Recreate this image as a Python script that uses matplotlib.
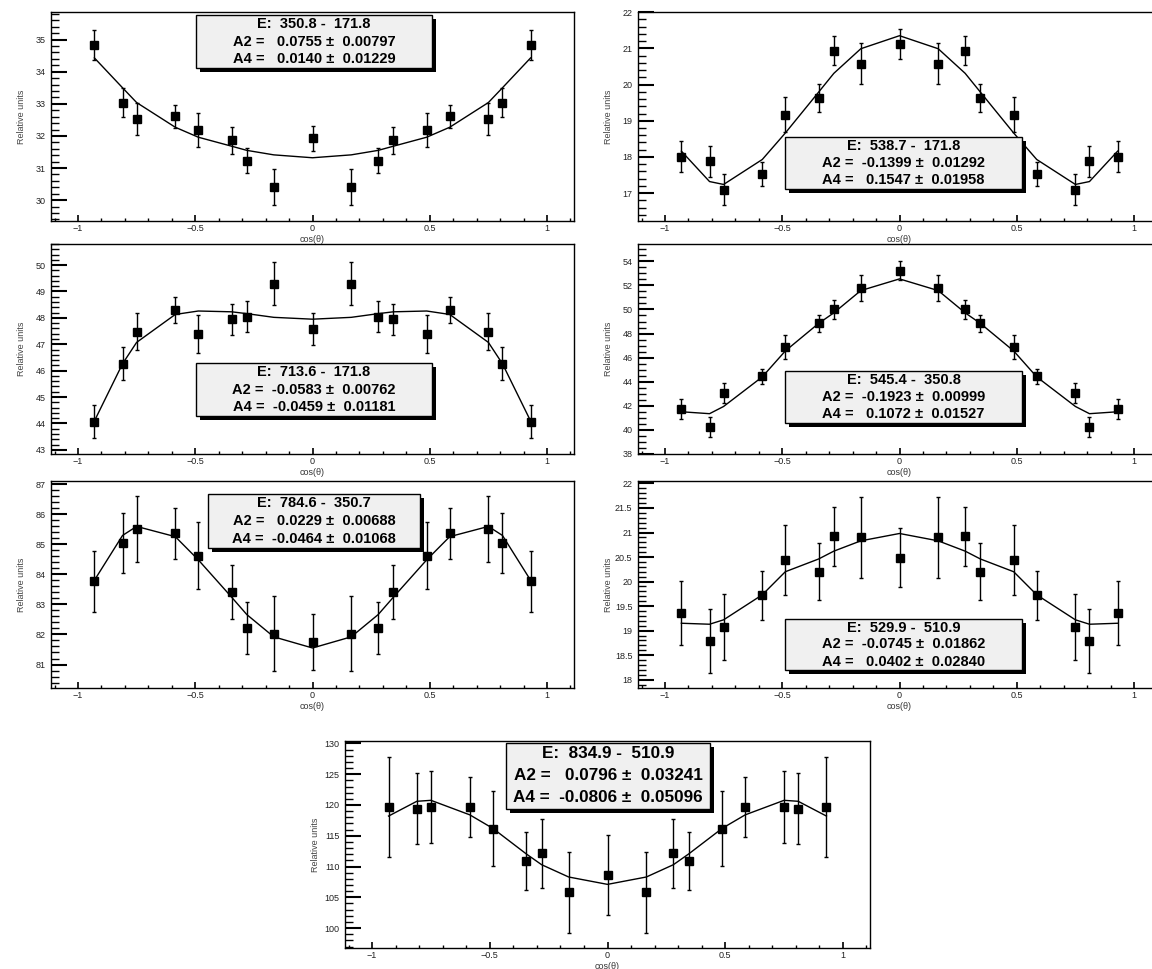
import numpy as np
import matplotlib as mpl
mpl.use('Agg')
import matplotlib.pyplot as plt
from matplotlib.patches import Rectangle
from matplotlib.ticker import MultipleLocator, AutoMinorLocator, FuncFormatter

plt.rcParams['font.family'] = ['Liberation Sans', 'DejaVu Sans']

W, H = 1152, 969

# detector angles, same for every panel
cos_theta = [-0.93, -0.81, -0.75, -0.585, -0.487, -0.345, -0.28, -0.165, 0.0,
             0.165, 0.28, 0.345, 0.487, 0.585, 0.75, 0.81, 0.93]

# panel 1: 350.8 - 171.8
p1_y = [34.82, 33.03, 32.53, 32.61, 32.19, 31.87, 31.22, 30.41, 31.92,
        30.41, 31.22, 31.87, 32.19, 32.61, 32.53, 33.03, 34.82]
p1_err = [0.47, 0.45, 0.50, 0.35, 0.53, 0.42, 0.39, 0.56, 0.40,
          0.56, 0.39, 0.42, 0.53, 0.35, 0.50, 0.45, 0.47]
p1_fit = [34.43, 33.50, 33.04, 32.27, 31.96, 31.68, 31.55, 31.41, 31.32,
          31.41, 31.55, 31.68, 31.96, 32.27, 33.04, 33.50, 34.43]
p1_text = ['E:  350.8 -  171.8', 'A2 =   0.0755 \u00b1  0.00797', 'A4 =   0.0140 \u00b1  0.01229']

# panel 2: 538.7 - 171.8
p2_y = [18.01, 17.88, 17.10, 17.52, 19.17, 19.62, 20.94, 20.58, 21.12,
        20.58, 20.94, 19.62, 19.17, 17.52, 17.10, 17.88, 18.01]
p2_err = [0.43, 0.43, 0.43, 0.33, 0.49, 0.39, 0.40, 0.56, 0.41,
          0.56, 0.40, 0.39, 0.49, 0.33, 0.43, 0.43, 0.43]
p2_fit = [18.16, 17.32, 17.24, 17.93, 18.66, 19.79, 20.31, 20.99, 21.35,
          20.99, 20.31, 19.79, 18.66, 17.93, 17.24, 17.32, 18.16]
p2_text = ['E:  538.7 -  171.8', 'A2 =  -0.1399 \u00b1  0.01292', 'A4 =   0.1547 \u00b1  0.01958']

# panel 3: 713.6 - 171.8
p3_y = [44.06, 46.26, 47.47, 48.29, 47.38, 47.94, 48.05, 49.30, 47.57,
        49.30, 48.05, 47.94, 47.38, 48.29, 47.47, 46.26, 44.06]
p3_err = [0.62, 0.62, 0.70, 0.50, 0.72, 0.58, 0.60, 0.80, 0.60,
          0.80, 0.60, 0.58, 0.72, 0.50, 0.70, 0.62, 0.62]
p3_fit = [44.09, 46.26, 47.07, 48.13, 48.26, 48.23, 48.16, 48.02, 47.95,
          48.02, 48.16, 48.23, 48.26, 48.13, 47.07, 46.26, 44.09]
p3_text = ['E:  713.6 -  171.8', 'A2 =  -0.0583 \u00b1  0.00762', 'A4 =  -0.0459 \u00b1  0.01181']

# panel 4: 545.4 - 350.8
p4_y = [41.75, 40.21, 43.02, 44.46, 46.91, 48.84, 50.00, 51.77, 53.23,
        51.77, 50.00, 48.84, 46.91, 44.46, 43.02, 40.21, 41.75]
p4_err = [0.85, 0.82, 0.83, 0.63, 1.00, 0.73, 0.78, 1.07, 0.77,
          1.07, 0.78, 0.73, 1.00, 0.63, 0.83, 0.82, 0.85]
p4_fit = [41.50, 41.34, 41.94, 44.40, 46.55, 48.84, 49.72, 51.57, 52.54,
          51.57, 49.72, 48.84, 46.55, 44.40, 41.94, 41.34, 41.50]
p4_text = ['E:  545.4 -  350.8', 'A2 =  -0.1923 \u00b1  0.00999', 'A4 =   0.1072 \u00b1  0.01527']

# panel 5: 784.6 - 350.7
p5_y = [83.76, 85.04, 85.51, 85.36, 84.62, 83.41, 82.22, 82.03, 81.75,
        82.03, 82.22, 83.41, 84.62, 85.36, 85.51, 85.04, 83.76]
p5_err = [1.01, 1.01, 1.10, 0.84, 1.12, 0.91, 0.87, 1.26, 0.92,
          1.26, 0.87, 0.91, 1.12, 0.84, 1.10, 1.01, 1.01]
p5_fit = [83.80, 85.29, 85.59, 85.25, 84.48, 83.24, 82.66, 81.92, 81.55,
          81.92, 82.66, 83.24, 84.48, 85.25, 85.59, 85.29, 83.80]
p5_text = ['E:  784.6 -  350.7', 'A2 =   0.0229 \u00b1  0.00688', 'A4 =  -0.0464 \u00b1  0.01068']

# panel 6: 529.9 - 510.9
p6_y = [19.36, 18.79, 19.07, 19.72, 20.44, 20.20, 20.92, 20.90, 20.49,
        20.90, 20.92, 20.20, 20.44, 19.72, 19.07, 18.79, 19.36]
p6_err = [0.66, 0.65, 0.67, 0.50, 0.72, 0.58, 0.60, 0.82, 0.60,
          0.82, 0.60, 0.58, 0.72, 0.50, 0.67, 0.65, 0.66]
p6_fit = [19.15, 19.13, 19.22, 19.73, 20.20, 20.46, 20.62, 20.83, 20.98,
          20.83, 20.62, 20.46, 20.20, 19.73, 19.22, 19.13, 19.15]
p6_text = ['E:  529.9 -  510.9', 'A2 =  -0.0745 \u00b1  0.01862', 'A4 =   0.0402 \u00b1  0.02840']

# panel 7: 834.9 - 510.9
p7_y = [119.68, 119.40, 119.68, 119.73, 116.16, 110.90, 112.16, 105.80, 108.65,
        105.80, 112.16, 110.90, 116.16, 119.73, 119.68, 119.40, 119.68]
p7_err = [8.1, 5.8, 5.8, 4.9, 6.1, 4.7, 5.6, 6.6, 6.5,
          6.6, 5.6, 4.7, 6.1, 4.9, 5.8, 5.8, 8.1]
p7_fit = [118.2, 120.6, 120.76, 118.4, 116.2, 112.05, 110.3, 108.3, 107.1,
          108.3, 110.3, 112.05, 116.2, 118.4, 120.76, 120.6, 118.2]
p7_text = ['E:  834.9 -  510.9', 'A2 =   0.0796 \u00b1  0.03241', 'A4 =  -0.0806 \u00b1  0.05096']


def frac_rect(l, t, r, b):
    return [l / W, 1 - b / H, (r - l) / W, (b - t) / H]


def fmt_tick(v, pos):
    return ('%g' % round(v, 6)).replace('-', '\u2212')


# (data, ylim, major step, minor divisions, axes px rect, box px rect, box font size)
panels = [
    (p1_y, p1_err, p1_fit, p1_text, (29.35, 35.86), 1, 5, (51, 12, 574, 221), (196, 15, 432, 68), 10.5),
    (p2_y, p2_err, p2_fit, p2_text, (16.23, 22.005), 1, 5, (638, 12, 1161, 221), (785, 137, 1022, 189), 10.5),
    (p3_y, p3_err, p3_fit, p3_text, (42.84, 50.8), 1, 5, (51, 244, 574, 454), (196, 363, 432, 416), 10.5),
    (p4_y, p4_err, p4_fit, p4_text, (37.99, 55.44), 2, 4, (638, 244, 1161, 454), (785, 371, 1022, 423), 10.5),
    (p5_y, p5_err, p5_fit, p5_text, (80.22, 87.1), 1, 5, (51, 481, 574, 688), (208, 494, 420, 548), 10.5),
    (p6_y, p6_err, p6_fit, p6_text, (17.83, 22.05), 0.5, 5, (638, 481, 1161, 688), (785, 619, 1022, 670), 10.5),
    (p7_y, p7_err, p7_fit, p7_text, (96.76, 130.4), 5, 5, (345, 741, 870, 948), (506, 743, 710, 809), 12.3),
]

fig = plt.figure(figsize=(W / 100, H / 100), dpi=100)

for y, err, fit, text, ylim, step, ndiv, rect, box, fs in panels:
    ax = fig.add_axes(frac_rect(*rect))
    ax.plot(cos_theta, fit, color='black', lw=1, zorder=2)
    ax.errorbar(cos_theta, y, yerr=err, fmt='s', color='black', ms=6,
                elinewidth=1, capsize=1.5, capthick=1, zorder=3)
    ax.set_xlim(-1.115, 1.115)
    ax.set_ylim(*ylim)
    ax.xaxis.set_major_locator(MultipleLocator(0.5))
    ax.xaxis.set_minor_locator(MultipleLocator(0.1))
    ax.yaxis.set_major_locator(MultipleLocator(step))
    ax.yaxis.set_minor_locator(AutoMinorLocator(ndiv))
    ax.xaxis.set_major_formatter(FuncFormatter(fmt_tick))
    ax.yaxis.set_major_formatter(FuncFormatter(fmt_tick))
    ax.tick_params(axis='x', which='major', direction='in', length=4.5, width=1.2,
                   labelsize=6.5, pad=2, top=False, labelcolor='#222222')
    ax.tick_params(axis='x', which='minor', direction='in', length=2.2, width=1, top=False)
    ax.tick_params(axis='y', which='major', direction='in', length=11.5, width=1.5,
                   labelsize=6.5, pad=4, right=False, labelcolor='#222222')
    ax.tick_params(axis='y', which='minor', direction='in', length=5.8, width=1, right=False)
    for sp in ax.spines.values():
        sp.set_linewidth(1)
    ax.set_xlabel('cos(\u03b8)', fontsize=6.5, color='#333333')
    ax.set_ylabel('Relative units', fontsize=6.5, color='#444444')
    ax.xaxis.set_label_coords(0.5, -0.068)
    ax.yaxis.set_label_coords(-0.048, 0.5)

    # stats box with shadow
    l, t, r, b = box
    fig.patches.append(Rectangle(((l + 4) / W, 1 - (b + 4) / H), (r - l) / W, (b - t) / H,
                                 transform=fig.transFigure,
                                 facecolor='black', edgecolor='black', lw=0, zorder=5))
    fig.patches.append(Rectangle((l / W, 1 - b / H), (r - l) / W, (b - t) / H,
                                 transform=fig.transFigure, facecolor='#f0f0f0',
                                 edgecolor='black', lw=1, zorder=6))
    xc = (l + r) / 2 / W
    for i, line in enumerate(text):
        yc = 1 - (t + (b - t) * (1 + 2 * i) / 6) / H
        fig.text(xc, yc, line, ha='center', va='center', fontsize=fs,
                 fontweight='bold', zorder=7)

fig.savefig('out.png', dpi=100)
